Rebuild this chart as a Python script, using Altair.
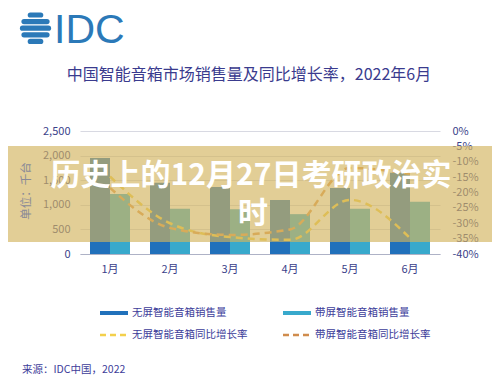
import altair as alt
import pandas as pd

months = ["1月", "2月", "3月", "4月", "5月", "6月"]
no_screen_sales = [1950, 1450, 1360, 1100, 1340, 1650]
screen_sales = [1220, 920, 910, 810, 920, 1060]
no_screen_yoy = [-0.148, -0.300, -0.345, -0.354, -0.224, -0.348]
screen_yoy = [-0.185, -0.315, -0.338, -0.320, -0.120, -0.140]

bar_series = ["无屏智能音箱销售量", "带屏智能音箱销售量"]
line_series = ["无屏智能音箱同比增长率", "带屏智能音箱同比增长率"]
left_ticks = [0, 500, 1000, 1500, 2000, 2500]
right_ticks = [0, -0.05, -0.10, -0.15, -0.20, -0.25, -0.30, -0.35, -0.40]

title_text = "中国智能音箱市场销售量及同比增长率，2022年6月"
overlay_line1 = "历史上的12月27日考研政治实"
overlay_line2 = "时"
unit_text = "单位：千台"
source_text = "来源：IDC中国，2022"

BLUE = "#2171bb"
TEAL = "#38a9cc"
YELLOW = "#f3d04c"
ORANGE = "#e29a50"
INK = "#3b3f8a"
FONT = "Noto Sans CJK SC"

bars_df = pd.DataFrame({
    "month": months * 2,
    "series": [bar_series[0]] * 6 + [bar_series[1]] * 6,
    "value": no_screen_sales + screen_sales,
})
lines_df = pd.DataFrame({
    "month": months * 2,
    "series": [line_series[0]] * 6 + [line_series[1]] * 6,
    "value": no_screen_yoy + screen_yoy,
})
one = pd.DataFrame({"k": [0]})

xenc = alt.X("month:N", sort=months,
             scale=alt.Scale(paddingInner=1/3, paddingOuter=1/6),
             axis=alt.Axis(title=None, labelAngle=0, ticks=False, domainColor="#aeb2c6",
                           labelPadding=9, labelFontSize=11, labelColor=INK, labelFont=FONT))

bars = alt.Chart(bars_df).mark_bar().encode(
    x=xenc,
    xOffset=alt.XOffset("series:N", sort=bar_series),
    y=alt.Y("value:Q", scale=alt.Scale(domain=[0, 2500], nice=False),
            axis=alt.Axis(title=None, values=left_ticks, domain=False, ticks=False,
                          gridColor="#d8d9e2", labelPadding=10, labelFontSize=11,
                          labelColor=INK, labelFont=FONT,
                          labelExpr="format(datum.value, ',.0f')")),
    color=alt.Color("series:N", sort=bar_series,
                    scale=alt.Scale(domain=bar_series, range=[BLUE, TEAL]), legend=None),
)

lines = alt.Chart(lines_df).mark_line(strokeWidth=2.5, strokeDash=[7, 5], interpolate="monotone").encode(
    x=alt.X("month:N", sort=months, bandPosition=0.5),
    y=alt.Y("value:Q", scale=alt.Scale(domain=[-0.4, 0], nice=False),
            axis=alt.Axis(title=None, orient="right", values=right_ticks, grid=False, domain=False,
                          ticks=False, labelPadding=12, labelFontSize=11, labelColor=INK,
                          labelFont=FONT, labelExpr="round(datum.value*100) + '%'")),
    stroke=alt.Stroke("series:N", sort=line_series,
                      scale=alt.Scale(domain=line_series, range=[YELLOW, ORANGE]), legend=None),
    detail="series:N",
)

band = alt.Chart(one).mark_rect(color="#d3b45e", opacity=0.65).encode(
    x=alt.value(-80), x2=alt.value(420), y=alt.value(15), y2=alt.value(111))

ov1 = alt.Chart(one).mark_text(font=FONT, fontSize=30, fontWeight="bold", color="white",
                               align="center", baseline="middle").encode(
    x=alt.value(171), y=alt.value(45), text=alt.value(overlay_line1))
ov2 = alt.Chart(one).mark_text(font=FONT, fontSize=30, fontWeight="bold", color="white",
                               align="center", baseline="middle").encode(
    x=alt.value(173), y=alt.value(83), text=alt.value(overlay_line2))

title = alt.Chart(one).mark_text(font=FONT, fontSize=16, color="#3a3b8e",
                                 align="center", baseline="middle").encode(
    x=alt.value(169), y=alt.value(-56), text=alt.value(title_text))

unit = alt.Chart(one).mark_text(font=FONT, fontSize=11.5, color="#8a8a96", angle=270,
                                align="center", baseline="middle").encode(
    x=alt.value(-53), y=alt.value(60), text=alt.value(unit_text))

idc = alt.Chart(one).mark_text(font="Liberation Sans", fontSize=41, color="#2b79b8",
                               align="left", baseline="alphabetic").encode(
    x=alt.value(-26), y=alt.value(-88), text=alt.value("IDC"))

globe_layers = []
gcx, gcy = -44.5, -102.8
for dy, half in [(-13.2, 5.2), (-6.6, 11.5), (0, 13.0), (6.6, 11.5), (13.2, 5.2)]:
    globe_layers.append(
        alt.Chart(one).mark_rule(color="#2b79b8", strokeWidth=5.2, strokeCap="round").encode(
            x=alt.value(gcx - half), x2=alt.value(gcx + half), y=alt.value(gcy + dy)))

legend_layers = []
leg = [
    (20, 182, BLUE, None, bar_series[0]),
    (203, 182, TEAL, None, bar_series[1]),
    (20, 204, YELLOW, [6, 4], line_series[0]),
    (203, 204, "#d08c4d", [6, 4], line_series[1]),
]
for lx, ly, col, dash, lab in leg:
    kw = dict(color=col, strokeWidth=4 if dash is None else 2.5)
    if dash is not None:
        kw["strokeDash"] = dash
    legend_layers.append(alt.Chart(one).mark_rule(**kw).encode(
        x=alt.value(lx), x2=alt.value(lx + 28), y=alt.value(ly)))
    legend_layers.append(alt.Chart(one).mark_text(font=FONT, fontSize=10.5, color="#3d3d9a",
                                                  align="left", baseline="middle").encode(
        x=alt.value(lx + 32), y=alt.value(ly), text=alt.value(lab)))

source = alt.Chart(one).mark_text(font=FONT, fontSize=10.5, color="#3d3d9a",
                                  align="left", baseline="middle").encode(
    x=alt.value(-58), y=alt.value(239), text=alt.value(source_text))

chart = alt.layer(
    bars, lines, band, ov1, ov2, title, unit, idc, *globe_layers, *legend_layers, source
).resolve_scale(y="independent").properties(
    width=360, height=123,
    padding={"left": 72, "top": 123, "right": 52, "bottom": 124},
    autosize=alt.AutoSizeParams(type="none"),
    background="white",
).configure_view(stroke=None)

chart.save("out.html", embed_options={"renderer": "svg", "actions": False})
